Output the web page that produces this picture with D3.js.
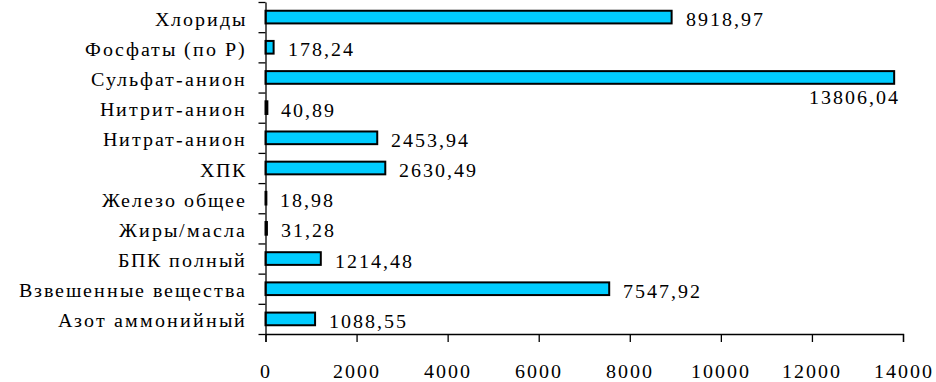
<!DOCTYPE html>
<html>
<head>
<meta charset="utf-8">
<script src="https://cdn.jsdelivr.net/npm/d3@7"></script>
<style>
  @font-face {
    font-family: "ChartSerif";
    src: local("Liberation Serif"), local("LiberationSerif"), local("LiberationSerif-Regular"), local("Times New Roman");
  }
  body { margin: 0; background: #fff; }
  svg, svg text { font-family: "ChartSerif", "Liberation Serif", "Times New Roman", serif; }
</style>
</head>
<body>
<div id="chart"></div>
<script>
// categories top to bottom
var categories = ["Хлориды", "Фосфаты (по Р)", "Сульфат-анион", "Нитрит-анион", "Нитрат-анион",
    "ХПК", "Железо общее", "Жиры/масла", "БПК полный", "Взвешенные вещества", "Азот аммонийный"];
var values = [8918.97, 178.24, 13806.04, 40.89, 2453.94, 2630.49, 18.98, 31.28, 1214.48, 7547.92, 1088.55];
var xTicks = [0, 2000, 4000, 6000, 8000, 10000, 12000, 14000];

var font = "20px ChartSerif, 'Liberation Serif', 'Times New Roman', serif";

function draw() {
    var svgWidth = 936;
    var svgHeight = 382;
    var margin = {top: 2, bottom: 48, left: 265.5, right: 33};
    var width = svgWidth - margin.left - margin.right;
    var height = svgHeight - margin.top - margin.bottom;

    var svg = d3.select("#chart").append("svg")
        .attr("width", svgWidth)
        .attr("height", svgHeight);
    var chartGroup = svg.append("g")
        .attr("transform", `translate(${margin.left}, ${margin.top})`);

    var xScale = d3.scaleLinear().domain([0, 14000]).range([0, width]);
    var yScale = d3.scaleBand().domain(categories).range([0, height]).paddingInner(0.58).paddingOuter(0.29);
    // boundaries between categories, for the y-axis ticks
    var yEdge = d3.scaleLinear().domain([0, categories.length]).range([0, height]);

    var fmt = function(v) { return d3.format(".2f")(v).replace(".", ","); };

    // bars
    chartGroup.selectAll("rect")
        .data(values)
        .enter()
        .append("rect")
        .attr("x", 0)
        .attr("y", (d, i) => yScale(categories[i]))
        .attr("width", d => xScale(d))
        .attr("height", yScale.bandwidth())
        .attr("fill", "#00ccff")
        .attr("stroke", "#000")
        .attr("stroke-width", 2);

    // x axis
    var xAxis = chartGroup.append("g")
        .attr("transform", `translate(0, ${height})`)
        .call(d3.axisBottom(xScale).tickValues(xTicks).tickSize(8).tickPadding(22).tickFormat(d3.format("d")));
    xAxis.attr("font-family", null).attr("font-size", null);
    xAxis.select(".domain").attr("stroke", "#000").attr("stroke-width", 1.3);
    xAxis.selectAll(".tick line").attr("stroke", "#000").attr("stroke-width", 1.3);
    xAxis.selectAll("text")
        .attr("fill", "#000")
        .style("font", font)
        .style("letter-spacing", "2px");

    // y axis (ticks on category boundaries)
    var yAxis = chartGroup.append("g")
        .call(d3.axisLeft(yEdge).ticks(categories.length).tickSize(7).tickSizeOuter(0).tickFormat(""));
    yAxis.select(".domain").attr("stroke", "#000").attr("stroke-width", 1.3);
    yAxis.selectAll(".tick line").attr("stroke", "#000").attr("stroke-width", 1.3);

    // category labels
    chartGroup.selectAll(".cat")
        .data(categories)
        .enter()
        .append("text")
        .attr("class", "cat")
        .attr("x", -19)
        .attr("y", d => yScale(d) + yScale.bandwidth() / 2 + 1.5)
        .attr("dy", "0.35em")
        .attr("text-anchor", "end")
        .style("font", font)
        .style("letter-spacing", "2px")
        .text(d => d);

    // value labels; the long Сульфат-анион bar gets its label underneath
    chartGroup.selectAll(".val")
        .data(values)
        .enter()
        .append("text")
        .attr("class", "val")
        .attr("x", (d, i) => i == 2 ? xScale(d) + 6 : xScale(d) + 14)
        .attr("y", (d, i) => yScale(categories[i]) + yScale.bandwidth() / 2 + (i == 2 ? 20 : 2))
        .attr("dy", "0.35em")
        .attr("text-anchor", (d, i) => i == 2 ? "end" : "start")
        .style("font", font)
        .style("letter-spacing", "2px")
        .text(d => fmt(d));
}

// make sure the serif face is loaded before the text is laid out
if (document.fonts && document.fonts.load) {
    document.fonts.load("20px ChartSerif", "Хлориды 0123").then(draw, draw);
} else {
    draw();
}
</script>
</body>
</html>
